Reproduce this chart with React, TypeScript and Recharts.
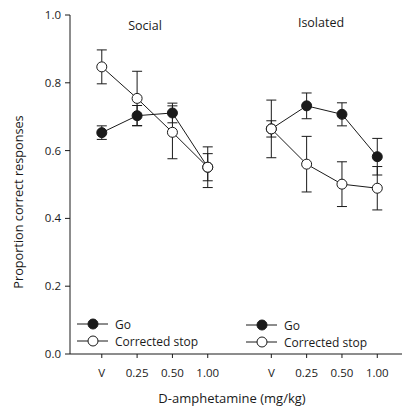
import { ComposedChart, Line, XAxis, YAxis, ErrorBar, Customized } from 'recharts'

const categories = ['V', '0.25', '0.50', '1.00']
const yTicks = [0, 0.2, 0.4, 0.6, 0.8, 1.0]

const socialGo = [0.653, 0.703, 0.711, 0.551]
const socialGoErr = [0.02, 0.03, 0.029, 0.04]
const socialStop = [0.847, 0.754, 0.654, 0.551]
const socialStopErr = [0.05, 0.08, 0.078, 0.06]

const isoGo = [0.664, 0.732, 0.707, 0.582]
const isoGoErr = [0.024, 0.038, 0.034, 0.054]
const isoStop = [0.664, 0.56, 0.501, 0.489]
const isoStopErr = [0.085, 0.082, 0.066, 0.064]

// second panel sits this many category steps to the right of the first
const PANEL_SHIFT = 4.8
const FONT = '"Open Sans", sans-serif'
const INK = '#1a1a1a'

const buildRows = (go: number[], goErr: number[], stop: number[], stopErr: number[], shift: number) =>
  categories.map((c, i) => ({
    x: i + shift,
    label: c,
    go: go[i],
    goErr: goErr[i],
    stop: stop[i],
    stopErr: stopErr[i],
  }))

const socialRows = buildRows(socialGo, socialGoErr, socialStop, socialStopErr, 0)
const isoRows = buildRows(isoGo, isoGoErr, isoStop, isoStopErr, PANEL_SHIFT)
const xTicks = [...socialRows, ...isoRows].map((r) => r.x)

const xLabel = (v: number) => {
  const i = v > PANEL_SHIFT - 0.5 ? Math.round(v - PANEL_SHIFT) : Math.round(v)
  return categories[i] ?? ''
}

function LegendBlock({ x, y }: { x: number; y: number }) {
  return (
    <g>
      <line x1={x} x2={x + 31} y1={y} y2={y} stroke={INK} />
      <circle cx={x + 16} cy={y} r={5} fill={INK} stroke={INK} />
      <text x={x + 38} y={y} dominantBaseline="central" fontSize={12} fontFamily={FONT} fill={INK}>Go</text>
      <line x1={x} x2={x + 31} y1={y + 17} y2={y + 17} stroke={INK} />
      <circle cx={x + 16} cy={y + 17} r={5} fill="#fff" stroke={INK} />
      <text x={x + 38} y={y + 17} dominantBaseline="central" fontSize={12} fontFamily={FONT} fill={INK}>Corrected stop</text>
    </g>
  )
}

function Annotations() {
  return (
    <g>
      <text x={145} y={25} textAnchor="middle" dominantBaseline="central" fontSize={12.5} fontFamily={FONT} fill={INK}>Social</text>
      <text x={321} y={22} textAnchor="middle" dominantBaseline="central" fontSize={12.5} fontFamily={FONT} fill={INK}>Isolated</text>
      <text
        x={18}
        y={202}
        transform="rotate(-90 18 202)"
        textAnchor="middle"
        dominantBaseline="central"
        fontSize={12.7}
        fontFamily={FONT}
        fill={INK}
      >
        Proportion correct responses
      </text>
      <text x={232} y={398} textAnchor="middle" dominantBaseline="central" fontSize={13} fontFamily={FONT} fill={INK}>
        D-amphetamine (mg/kg)
      </text>
      <LegendBlock x={77} y={324} />
      <LegendBlock x={246} y={325} />
    </g>
  )
}

const filledDot = { r: 5, fill: INK, stroke: INK, strokeWidth: 1 }
const openDot = { r: 5, fill: '#fff', stroke: INK, strokeWidth: 1 }

export default function App() {
  return (
    <div style={{ position: 'absolute', left: 0, top: 0, background: '#fff' }}>
      <ComposedChart width={402} height={407} margin={{ top: 15, right: 0, bottom: 0, left: 0 }}>
        <XAxis
          type="number"
          dataKey="x"
          domain={[-0.9, 8.5]}
          ticks={xTicks}
          tickFormatter={xLabel}
          allowDataOverflow
          height={53}
          tickSize={4}
          tickMargin={11}
          stroke={INK}
          tick={{ fontSize: 11.5, fill: INK, fontFamily: FONT }}
        />
        <YAxis
          type="number"
          domain={[0, 1]}
          ticks={yTicks}
          tickFormatter={(v: number) => v.toFixed(1)}
          width={70}
          tickSize={5}
          tickMargin={4}
          stroke={INK}
          tick={{ fontSize: 11.5, fill: INK, fontFamily: FONT }}
        />
        <Line data={socialRows} dataKey="go" stroke={INK} strokeWidth={1} dot={filledDot} activeDot={false} isAnimationActive={false}>
          <ErrorBar dataKey="goErr" direction="y" width={5} stroke={INK} strokeWidth={1} />
        </Line>
        <Line data={socialRows} dataKey="stop" stroke={INK} strokeWidth={1} dot={openDot} activeDot={false} isAnimationActive={false}>
          <ErrorBar dataKey="stopErr" direction="y" width={5} stroke={INK} strokeWidth={1} />
        </Line>
        <Line data={isoRows} dataKey="go" stroke={INK} strokeWidth={1} dot={filledDot} activeDot={false} isAnimationActive={false}>
          <ErrorBar dataKey="goErr" direction="y" width={5} stroke={INK} strokeWidth={1} />
        </Line>
        <Line data={isoRows} dataKey="stop" stroke={INK} strokeWidth={1} dot={openDot} activeDot={false} isAnimationActive={false}>
          <ErrorBar dataKey="stopErr" direction="y" width={5} stroke={INK} strokeWidth={1} />
        </Line>
        <Customized component={Annotations} />
      </ComposedChart>
    </div>
  )
}
